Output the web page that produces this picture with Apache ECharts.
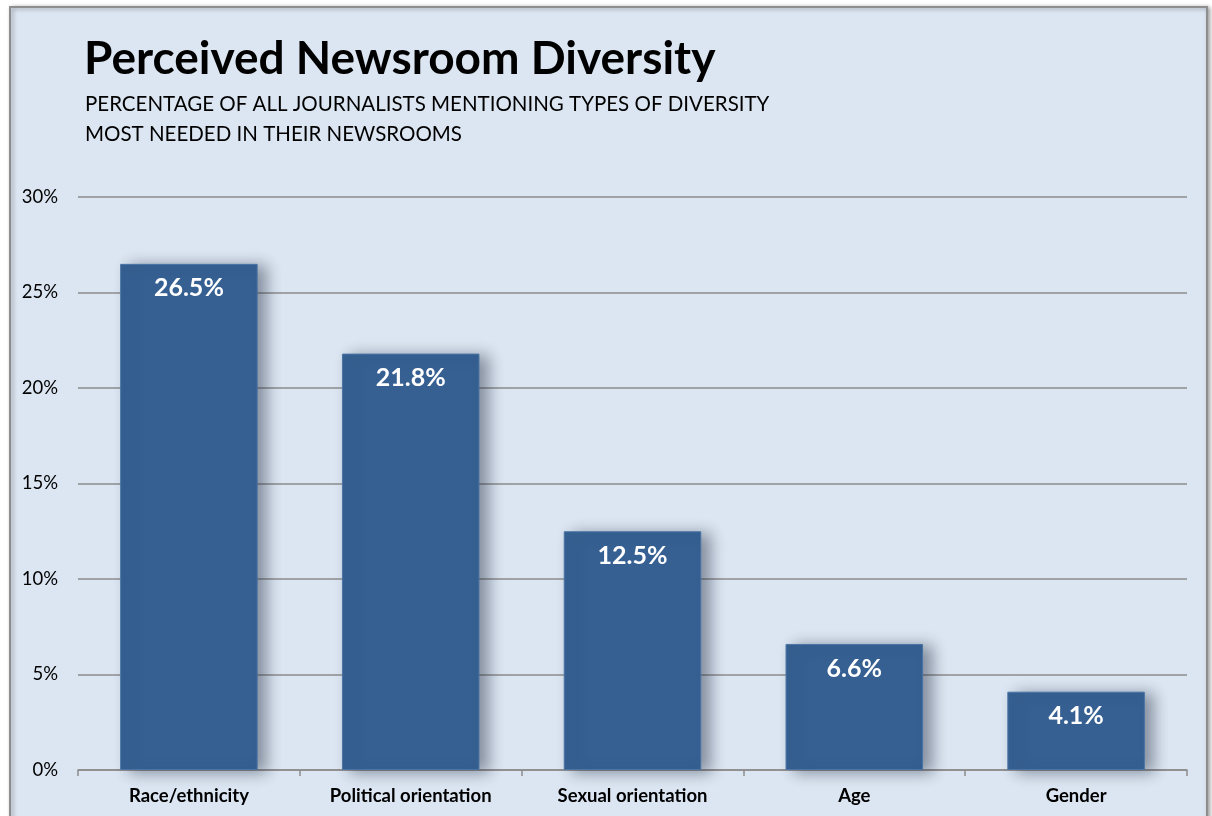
<!DOCTYPE html>
<html>
<head>
<meta charset="utf-8">
<script src="https://cdn.jsdelivr.net/npm/echarts@6/dist/echarts.min.js"></script>
<style>
  html, body { margin: 0; padding: 0; background: #ffffff; }
  #chart { width: 1212px; height: 816px; }
</style>
</head>
<body>
<div id="chart"></div>
<script>
const categories = ['Race/ethnicity', 'Political orientation', 'Sexual orientation', 'Age', 'Gender'];
const shares = [26.5, 21.8, 12.5, 6.6, 4.1];
const yTicks = [0, 5, 10, 15, 20, 25, 30];

const titleText = 'Perceived Newsroom Diversity';
const subtitleLines = ['PERCENTAGE OF ALL JOURNALISTS MENTIONING TYPES OF DIVERSITY', 'MOST NEEDED IN THEIR NEWSROOMS'];

const font = 'Lato, "Open Sans", sans-serif';
const chart = echarts.init(document.getElementById('chart'));

chart.setOption({
  backgroundColor: '#ffffff',
  animation: false,
  graphic: [
    {
      type: 'rect', z: -10,
      shape: { x: 10, y: 7, width: 1197, height: 830 },
      style: { fill: '#dce6f2', stroke: '#8e8e8e', lineWidth: 2,
               shadowColor: 'rgba(0,0,0,0.35)', shadowBlur: 4, shadowOffsetX: 2, shadowOffsetY: 1 }
    },
    {
      type: 'text', left: 84, top: 36,
      style: { text: titleText, font: 'bold 46px ' + font, fill: '#000000' }
    },
    {
      type: 'text', left: 85, top: 89,
      style: { text: subtitleLines.join('\n'), font: '20.5px ' + font, fill: '#000000', lineHeight: 30 }
    }
  ],
  grid: { left: 78, right: 25, top: 197, bottom: 46 },
  xAxis: {
    type: 'category',
    data: categories,
    axisLine: { lineStyle: { color: '#8c8c8c', width: 1.5 } },
    axisTick: { show: true, length: 6, lineStyle: { color: '#8c8c8c', width: 1.5 } },
    axisLabel: { color: '#000000', fontFamily: font, fontWeight: 'bold', fontSize: 18.5, margin: 17 }
  },
  yAxis: {
    type: 'value',
    min: yTicks[0], max: yTicks[yTicks.length - 1], interval: 5,
    axisLine: { show: false },
    axisTick: { show: false },
    axisLabel: { color: '#000000', fontFamily: font, fontSize: 18.5, margin: 20, formatter: v => v + '%' },
    splitLine: { lineStyle: { color: '#8c8c8c', width: 1.5 } }
  },
  series: [{
    type: 'bar',
    data: shares,
    barCategoryGap: '38%',
    itemStyle: {
      color: '#366092',
      borderColor: '#4a74a4', borderWidth: 1,
      shadowColor: 'rgba(30,40,60,0.45)', shadowBlur: 14, shadowOffsetX: 9, shadowOffsetY: 2
    },
    label: {
      show: true, position: 'insideTop', distance: 12,
      color: '#ffffff', fontFamily: font, fontWeight: 'bold', fontSize: 25,
      formatter: p => p.value.toFixed(1) + '%'
    }
  }]
});
</script>
</body>
</html>
